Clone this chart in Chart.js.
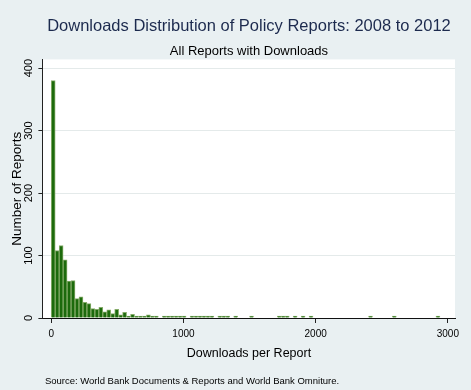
<!DOCTYPE html>
<html>
<head>
<meta charset="utf-8">
<script src="https://cdn.jsdelivr.net/npm/chart.js@4"></script>
<style>
  html, body { margin: 0; padding: 0; background: #e9f0f2; }
  #wrap { width: 471px; height: 390px; position: relative; }
</style>
</head>
<body>
<div id="wrap"><canvas id="chart"></canvas></div>
<script>
// histogram: downloads per report, bins of 30 downloads
const binWidth = 30;
const counts = [
  380, 108, 116, 93, 59, 60, 31, 34, 25, 23,
  15, 14, 17, 10, 13, 7, 14, 5, 9, 3,
  6, 3, 2, 1, 5, 2, 2, 0, 2, 1,
  1, 3, 1, 1, 0, 3, 2, 2, 1, 2,
  1, 0, 1, 1, 1, 0, 1, 0, 0, 0,
  1, 0, 0, 0, 0, 0, 0, 1, 1, 1,
  0, 1, 0, 3, 0, 1, 0, 0, 0, 0,
  0, 0, 0, 0, 0, 0, 0, 0, 0, 0,
  1, 0, 0, 0, 0, 0, 1, 0, 0, 0,
  0, 0, 0, 0, 0, 0, 0, 1, 0, 0,
];
const xTicks = [0, 1000, 2000, 3000];
const yTicks = [0, 100, 200, 300, 400];

const titleText = "Downloads Distribution of Policy Reports: 2008 to 2012";
const subtitleText = "All Reports with Downloads";
const xTitle = "Downloads per Report";
const yTitle = "Number of Reports";
const sourceNote = "Source: World Bank Documents & Reports and World Bank Omniture.";

const FONT = "'Liberation Sans', Arial, sans-serif";
Chart.defaults.font.family = FONT;
Chart.defaults.color = "#000";

const bins = counts.map((c, i) => ({ x: i * binWidth + binWidth / 2, y: c > 0 ? c : null }));

// white plot region + source line under the chart
const plotBg = {
  id: "plotBg",
  beforeDraw(chart) {
    const { ctx, chartArea: a } = chart;
    ctx.save();
    ctx.fillStyle = "#fff";
    ctx.fillRect(a.left, a.top, a.right - a.left, a.bottom - a.top);
    ctx.restore();
  },
  afterDraw(chart) {
    const { ctx, chartArea: a } = chart;
    ctx.save();
    ctx.font = "9.5px " + FONT;
    ctx.fillStyle = "#000";
    ctx.textBaseline = "middle";
    ctx.textAlign = "left";
    ctx.fillText(sourceNote, a.left + 2, chart.height - 9);
    ctx.restore();
  },
};

new Chart(document.getElementById("chart"), {
  type: "bar",
  data: {
    datasets: [
      {
        data: bins,
        backgroundColor: "#1c6a0c",
        borderColor: "#86ac6a",
        borderWidth: 1,
        barPercentage: 1,
        categoryPercentage: 1,
        minBarLength: 2,
      },
    ],
  },
  options: {
    responsive: true,
    maintainAspectRatio: false,
    animation: false,
    layout: { padding: { left: 0, right: 16, top: 0, bottom: 29 } },
    plugins: {
      legend: { display: false },
      tooltip: { enabled: false },
      title: {
        display: true,
        text: titleText,
        fullSize: false,
        color: "#1c2a4e",
        font: { size: 16.5, weight: "normal" },
        padding: { top: 17, bottom: 4 },
      },
      subtitle: {
        display: true,
        text: subtitleText,
        fullSize: false,
        color: "#000",
        font: { size: 13 },
        padding: { top: 3, bottom: 0 },
      },
    },
    scales: {
      x: {
        type: "linear",
        offset: false,
        min: -63,
        max: 3054,
        afterBuildTicks: (axis) => { axis.ticks = xTicks.map((v) => ({ value: v })); },
        grid: {
          drawOnChartArea: false,
          offset: false,
          tickLength: 5,
          tickColor: "#222",
        },
        border: { color: "#111", width: 1 },
        ticks: {
          font: { size: 10 },
          padding: 5,
          color: "#000",
          callback: (v) => String(v),
        },
        title: {
          display: true,
          text: xTitle,
          font: { size: 12.5 },
          color: "#000",
          padding: { top: 1, bottom: 0 },
        },
      },
      y: {
        min: 0,
        max: 414,
        afterBuildTicks: (axis) => { axis.ticks = yTicks.map((v) => ({ value: v })); },
        grid: {
          color: "#e4eaea",
          tickLength: 4.5,
          tickColor: "#222",
        },
        border: { color: "#222", width: 1 },
        ticks: {
          font: { size: 11 },
          padding: 0,
          minRotation: 90,
          maxRotation: 90,
          crossAlign: "center",
          color: "#000",
        },
        title: {
          display: true,
          text: yTitle,
          font: { size: 13.5 },
          color: "#000",
          padding: { top: 9, bottom: 0 },
        },
      },
    },
  },
  plugins: [plotBg],
});
</script>
</body>
</html>
